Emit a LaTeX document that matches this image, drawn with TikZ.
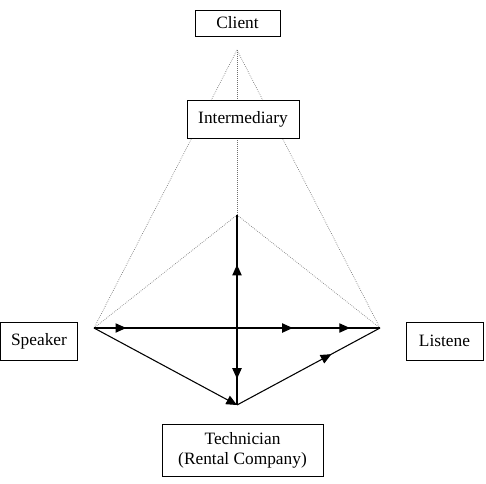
\documentclass[tikz,border=0pt]{standalone}
\usepackage{fontspec}
\setmainfont{Liberation Serif}
\usetikzlibrary{arrows.meta,decorations.markings}

\tikzset{
  box/.style={draw,fill=white,line width=0.6pt,inner sep=0.75pt,align=center,font=\fontsize{13}{15}\selectfont},
  link/.style={line width=0.8pt},
  guide/.style={densely dotted,line width=0.5pt,color={rgb, 255:red, 110; green, 110; blue, 110 }},
  tip/.style={postaction={decorate},decoration={markings,mark=at position #1 with {\arrow{Triangle[length=8pt,width=7pt]}}}},
  tiptwo/.style 2 args={postaction={decorate},decoration={markings,mark=at position #1 with {\arrow{Triangle[length=8pt,width=7pt]}},mark=at position #2 with {\arrow{Triangle[length=8pt,width=7pt]}}}}
}

\begin{document}
\begin{tikzpicture}[x=0.75pt,y=0.75pt,yscale=-1,xscale=1]
\useasboundingbox (0,0) rectangle (486,483);

%Corners of the cone
\coordinate (apex) at (237,50);
\coordinate (peak) at (237,215);
\coordinate (spk) at (94,328);
\coordinate (lis) at (380,328);
\coordinate (cross) at (237,328);
\coordinate (bot) at (237,405);

%Shape: dotted guides
\draw [guide] (apex) -- (spk) ;
\draw [guide] (apex) -- (lis) ;
\draw [guide] (apex) -- (peak) ;
\draw [guide] (peak) -- (spk) ;
\draw [guide] (peak) -- (lis) ;

%Shape: arrows
\draw [link,tip=0.225] (spk) -- (cross) ;
\draw [link,tiptwo={0.39}{0.79}] (cross) -- (lis) ;
\draw [link,tip=0.56] (cross) -- (peak) ;
\draw [link,tip=0.66] (cross) -- (bot) ;
\draw [link,-{Triangle[length=8pt,width=7pt]}] (spk) -- (bot) ;
\draw [link,tip=0.66] (bot) -- (lis) ;

% Text Node
\node [box,minimum width=63.75pt,minimum height=19.5pt] (client) at (237.5,23) {Client};
% Text Node
\node [box,minimum width=84pt,minimum height=28.5pt] (inter) at (243,119) {Intermediary};
% Text Node
\node [box,minimum width=57.75pt,minimum height=28.5pt] (speaker) at (39,341) {Speaker};
% Text Node
\node [box,minimum width=57.75pt,minimum height=28.5pt] (listener) at (444.5,341) {Listene};
% Text Node
\node [box,minimum width=120.75pt,minimum height=39pt] (tech) at (242.5,450) {Technician\\(Rental Company)};

\end{tikzpicture}
\end{document}
